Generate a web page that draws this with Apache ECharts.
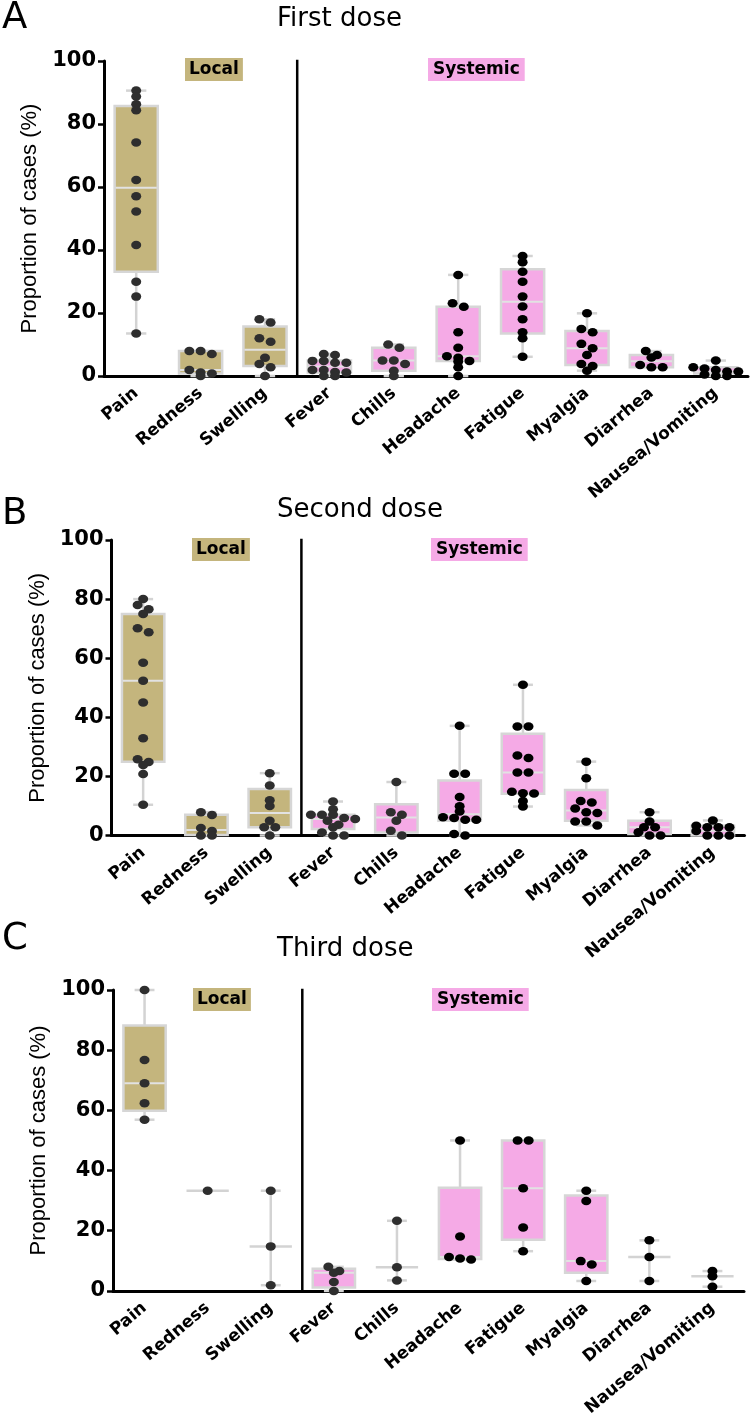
<!DOCTYPE html>
<html><head><meta charset="utf-8">
<script src="https://cdn.jsdelivr.net/npm/echarts@6/dist/echarts.min.js"></script>
<style>html,body{margin:0;padding:0;background:#fff}#c{width:750px;height:1419px}</style>
</head><body><div id="c"></div>
<script>
// ---------------- data ----------------
const categories = ['Pain','Redness','Swelling','Fever','Chills','Headache','Fatigue','Myalgia','Diarrhea','Nausea/Vomiting'];
const localCount = 3; // first three categories are local reactions
const doseTitles = ['First dose','Second dose','Third dose'];
const panelLetters = ['A','B','C'];
const groupLabels = ['Local','Systemic'];
const separatorAt = [2.5, 0, 101]; // between Swelling and Fever, from 0% to top

// individual study values (%), one list per category
const firstDosePoints = [
  [90.6,88.7,86.3,84.4,74.1,62.2,57.1,52.2,41.6,29.9,25.2,13.5],
  [7.9,7.0,7.9,1.9,1.1,0.8,0],
  [18.0,17.0,12.0,10.9,5.8,3.8,2.8,0],
  [7.0,6.7,4.8,4.8,4.2,4.2,1.9,1.9,1.3,1.1,0,0],
  [10.0,9.0,4.9,4.9,3.8,1.7,0],
  [32.1,23.1,22.0,13.9,9.0,6.3,5.8,4.8,4.6,2.8,0],
  [38.1,36.1,33.1,29.9,25.2,22.1,18.0,13.9,12.0,6.1],
  [19.9,14.9,13.9,10.2,8.8,6.7,3.8,3.2,1.7],
  [7.9,6.7,5.9,3.5,2.8,2.8],
  [4.9,2.8,2.4,1.9,1.4,1.4,0.5,0,0]
];
// box stats: [min, Q1, median, Q3, max]
const firstDoseBoxes = [
  [13.5,33.1,59.8,85.7,90.6],
  [0,0.8,1.9,7.9,7.9],
  [0,3.2,8.3,15.7,18.0],
  [0,1.1,3.0,4.9,7.0],
  [0,1.7,4.9,9.0,10.0],
  [0,4.8,6.3,22.0,32.1],
  [6.1,13.5,23.6,33.9,38.1],
  [1.7,3.5,8.8,14.3,19.9],
  [2.8,2.8,4.7,6.7,7.9],
  [0,0.8,1.4,2.8,4.9]
];

const secondDosePoints = [
  [80.0,78.0,76.6,75.0,70.1,68.8,58.5,52.4,45.0,32.9,25.8,24.9,23.9,20.8,10.4],
  [7.9,6.9,2.5,1.5,0,0],
  [21.1,16.9,11.9,10.0,5.0,2.8,2.8,0],
  [11.5,8.9,7.0,7.0,7.0,5.9,5.6,5.0,3.6,2.8,1.0,0,0],
  [18.1,7.9,7.0,5.0,1.6,0],
  [37.1,20.9,20.9,13.0,9.9,8.1,6.2,5.9,5.3,5.3,0.5,0],
  [51.0,36.9,36.9,27.1,26.2,21.3,21.3,14.8,14.3,14.2,11.7,9.8],
  [25.0,19.4,11.7,11.2,9.1,7.9,7.6,4.7,4.7,3.4],
  [7.9,4.7,2.8,2.8,1.1,0,0],
  [5.1,3.3,2.8,2.8,2.8,1.5,0,0,0]
];
const secondDoseBoxes = [
  [10.4,25.0,52.4,75.0,80.0],
  [0,0.2,1.9,7.0,7.9],
  [0,2.8,7.6,15.7,21.1],
  [0,2.2,5.6,7.0,11.5],
  [0,1.0,6.1,10.6,18.1],
  [0,5.0,7.2,18.6,37.1],
  [9.8,14.1,21.3,34.4,51.0],
  [3.4,5.0,8.5,15.4,25.0],
  [0,0.5,2.8,5.0,7.9],
  [0,0,1.6,3.3,5.1]
];

const thirdDosePoints = [
  [100,76.7,69.0,62.4,56.9],
  [33.3],
  [33.3,14.8,1.9],
  [8.0,6.6,6.0,3.0,0],
  [23.3,7.9,3.5],
  [50.0,18.1,11.3,10.8,10.4],
  [50.0,50.0,34.1,21.1,13.2],
  [33.3,29.9,9.9,8.8,3.3],
  [16.8,11.3,3.3],
  [6.6,4.9,1.4]
];
const thirdDoseBoxes = [
  [56.9,59.9,69.0,88.2,100],
  [33.3,33.3,33.3,33.3,33.3],
  [1.9,14.8,14.8,14.8,33.3],
  [0,1.1,6.0,7.4,8.0],
  [3.5,7.9,7.9,7.9,23.3],
  [10.4,10.6,11.3,34.3,50.0],
  [13.2,17.0,34.1,50.0,50.0],
  [3.3,6.0,9.9,31.7,33.3],
  [3.3,11.3,11.3,11.3,16.8],
  [1.4,4.9,4.9,4.9,6.6]
];

const allPoints = [firstDosePoints, secondDosePoints, thirdDosePoints];
const allBoxes = [firstDoseBoxes, secondDoseBoxes, thirdDoseBoxes];

// ---------------- layout / style ----------------
const GRIDS = [
  {left:104, top:61, width:644, height:315},
  {left:111.5, top:540, width:633, height:295.5},
  {left:113, top:990, width:631, height:303.5}
];
const TITLE_TOPS = [6, 497, 936];
const LETTER_TOPS = [0, 496, 921];
const TAG_TOPS = [58, 538, 988];
const TAG_LEFTS = [[185,428],[192,431],[193,432]];
const KHAKI = '#c4b57d', PINK = '#f5aae6';
const FONT_B = 'DejaVu Sans';

// simple beeswarm: group near-equal values into rows and centre them
function swarm(vals, pxPerUnit, stepUnits) {
  const s = vals.map((v,i)=>({v,i})).sort((a,b)=>b.v-a.v);
  const out = new Array(vals.length);
  let g = [];
  const flush = () => { g.forEach((o,j)=>{ out[o.i] = (j-(g.length-1)/2)*stepUnits; }); g = []; };
  s.forEach(o => {
    if (g.length && (g[0].v - o.v)*pxPerUnit >= 5) flush();
    g.push(o);
  });
  flush();
  return out;
}

function renderBox(params, api) {
  const i = api.value(0);
  const mn = api.value(1), q1 = api.value(2), md = api.value(3), q3 = api.value(4), mx = api.value(5);
  const cx = api.coord([i, 0])[0];
  const bw = api.size([1, 0])[0] * 0.67;
  const cap = bw * 0.47;
  const Y = v => api.coord([i, v])[1];
  const fill = i < localCount ? KHAKI : PINK;
  const wStyle = {stroke:'#d3d3d3', lineWidth:2.5};
  const ch = [];
  if (mx > mn) {
    ch.push({type:'line', shape:{x1:cx, y1:Y(mx), x2:cx, y2:Y(mn)}, style:wStyle});
    ch.push({type:'line', shape:{x1:cx-cap/2, y1:Y(mx), x2:cx+cap/2, y2:Y(mx)}, style:wStyle});
    ch.push({type:'line', shape:{x1:cx-cap/2, y1:Y(mn), x2:cx+cap/2, y2:Y(mn)}, style:wStyle});
  }
  if (q3 > q1) {
    ch.push({type:'rect', shape:{x:cx-bw/2, y:Y(q3), width:bw, height:Y(q1)-Y(q3)},
      style:{fill:fill, stroke:'#d6d6d6', lineWidth:2.5}});
    ch.push({type:'line', shape:{x1:cx-bw/2+1, y1:Y(md), x2:cx+bw/2-1, y2:Y(md)},
      style:{stroke:'#e2e2e2', lineWidth:2}});
  } else {
    ch.push({type:'line', shape:{x1:cx-bw/2, y1:Y(md), x2:cx+bw/2, y2:Y(md)},
      style:{stroke:'#d3d3d3', lineWidth:2.5}});
  }
  return {type:'group', children:ch};
}

const grid = [], xAxis = [], yAxis = [], series = [], title = [];
for (let p = 0; p < 3; p++) {
  const G = GRIDS[p];
  grid.push({left:G.left, top:G.top, width:G.width, height:G.height, containLabel:false});
  xAxis.push({
    gridIndex:p, type:'category', data:categories, boundaryGap:true,
    axisLine:{onZero:false, lineStyle:{color:'#000', width:3}},
    axisTick:{alignWithLabel:true, length:5, lineStyle:{color:'#000', width:2.5}},
    axisLabel:{interval:0, rotate:40, margin:15, fontFamily:FONT_B, fontWeight:'bold', fontSize:17, color:'#000'}
  });
  xAxis.push({gridIndex:p, type:'value', min:-0.5, max:9.5, show:false});
  yAxis.push({
    gridIndex:p, type:'value', min:0, max:100, interval:20,
    axisLine:{show:true, onZero:false, lineStyle:{color:'#000', width:3}},
    axisTick:{show:true, length:6, lineStyle:{color:'#000', width:2.5}},
    axisLabel:{margin:8, fontFamily:FONT_B, fontWeight:'bold', fontSize:21, color:'#000'},
    splitLine:{show:false},
    name:'Proportion of cases (%)', nameLocation:'middle', nameGap:56,
    nameTextStyle:{fontFamily:'Liberation Sans', fontSize:22, color:'#000'}
  });
  const boxes = allBoxes[p];
  series.push({
    type:'custom', xAxisIndex:p*2+1, yAxisIndex:p, z:2,
    renderItem:renderBox, encode:{x:0, y:[1,2,3,4,5]},
    data:boxes.map((b,i)=>[i].concat(b))
  });
  // Local | Systemic separator
  series.push({
    type:'line', xAxisIndex:p*2+1, yAxisIndex:p, z:4, symbol:'none', silent:true,
    lineStyle:{color:'#000', width:2.5},
    data:[[separatorAt[0], separatorAt[1]], [separatorAt[0], separatorAt[2]]]
  });
  const pts = [];
  const pxu = G.height/100;
  allPoints[p].forEach((vals, i) => {
    const off = swarm(vals, pxu, 0.175);
    vals.forEach((v, k) => pts.push({value:[i + off[k], v], itemStyle:{color: i < 5 ? '#2e2e2e' : '#000', opacity:1}}));
  });
  series.push({type:'scatter', xAxisIndex:p*2+1, yAxisIndex:p, z:3, symbol:'circle', symbolSize:[10,8.5],
    itemStyle:{opacity:1}, data:pts});

  title.push({text:panelLetters[p], left:2, top:LETTER_TOPS[p], padding:0,
    textStyle:{fontFamily:'DejaVu Sans', fontWeight:'normal', fontSize:37, color:'#000'}});
  title.push({text:doseTitles[p], left:277, top:TITLE_TOPS[p], padding:0,
    textStyle:{fontFamily:'DejaVu Sans', fontWeight:'normal', fontSize:26, color:'#000'}});
  title.push({text:groupLabels[0], left:TAG_LEFTS[p][0], top:TAG_TOPS[p], padding:[2,4,2,4], backgroundColor:KHAKI,
    textStyle:{fontFamily:FONT_B, fontWeight:'bold', fontSize:17, color:'#000', lineHeight:19}});
  title.push({text:groupLabels[1], left:TAG_LEFTS[p][1], top:TAG_TOPS[p], padding:[2,5,2,5], backgroundColor:PINK,
    textStyle:{fontFamily:FONT_B, fontWeight:'bold', fontSize:17, color:'#000', lineHeight:19}});
}

const chart = echarts.init(document.getElementById('c'), null, {renderer:'canvas'});
chart.setOption({backgroundColor:'#fff', animation:false, title, grid, xAxis, yAxis, series});
</script></body></html>
